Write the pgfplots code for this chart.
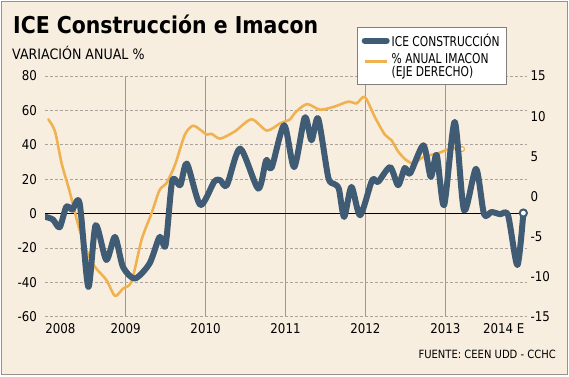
\documentclass[border=0pt]{standalone}
\usepackage{fontspec}
\setmainfont{DejaVu Sans}[FakeStretch=0.88]
\newfontfamily\narrowfont{DejaVu Sans}[FakeStretch=0.79]
\usepackage{pgfplots}
\usepackage{pgfplotstable}
\usetikzlibrary{calc,backgrounds}
\pgfplotsset{compat=1.18}
\definecolor{bg}{RGB}{248,238,224}
\definecolor{iceblue}{RGB}{64,92,116}
\definecolor{imaorange}{RGB}{240,178,80}
\definecolor{gridgray}{RGB}{160,152,144}
\definecolor{dashgray}{RGB}{170,162,155}
\definecolor{framec}{RGB}{155,145,138}

\pgfplotstableread{
m v
0.03 -2
1.1 -3.5
2.1 -8
3.1 4
4.0 2.3
5.1 6
6.4 -42.7
7.5 -6.8
9.1 -27
10.4 -13.6
11.6 -31
13.4 -37.8
15.6 -29
17.1 -13.6
18.0 -18.4
19.0 19
20.2 16.5
21.2 29
23.2 5
25.3 18.5
26.2 19.4
27.2 16.5
29.2 37.8
31.9 14.5
33.1 31
33.9 26.5
35.8 51.4
37.3 27
38.9 56
39.9 42.6
40.9 55.3
42.4 21.3
43.2 17.4
44.0 14.5
44.8 -2
45.9 15.5
47.2 -1
49.0 19.4
49.9 18.4
51.7 27
52.9 16.5
53.9 26.5
54.7 23.3
56.7 39.7
57.8 21.3
58.7 34
59.8 4.8
61.4 53.3
62.8 1.9
64.6 26
65.8 -0.4
66.9 0.9
68.2 -0.4
69.4 -1
70.8 -30
71.7 0.3
}\icedata

\pgfplotstableread{
m r
0.4 9.6
1.4 8.1
2.4 4.1
3.6 0.6
4.9 -3.6
6.1 -6.7
7.4 -8.8
9.1 -10.4
10.4 -12.4
11.6 -11.5
12.9 -10.6
14.4 -5.4
15.9 -2.1
17.1 0.8
18.1 1.6
19.4 3.9
20.9 7.7
22.1 8.8
23.2 8.3
24.2 7.7
24.9 7.8
26.2 7.2
28.4 8.1
30.9 9.6
33.2 8.2
35.2 9.1
36.7 9.6
37.4 10.4
39.2 11.5
41.2 10.8
43.4 11.2
45.4 11.8
46.7 11.6
47.9 12.4
49.4 9.9
50.9 7.7
51.9 7.0
52.9 5.6
54.0 4.6
55.2 4.1
56.7 4.9
59.0 5.4
60.2 5.8
61.4 6.0
62.5 5.9
}\imadata

\begin{document}
\begin{tikzpicture}[x=1bp,y=1bp]
\pgfplotsset{
  base/.style={
    scale only axis,
    width=482bp, height=240.7bp,
    xmin=-0.1, xmax=72.25,
    axis line style={draw=none}, major tick length=0,
    /pgf/number format/assume math mode=true,
    tick label style={font=\fontsize{13.5}{15}\selectfont},
  }
}

% grid and left axis
\begin{axis}[base, name=ax,
  ymin=-60, ymax=80,
  ytick={-60,-40,-20,20,40,60,80},
  extra y ticks={0},
  extra y tick style={ymajorgrids=true, y grid style={black, solid, line width=1bp}},
  ymajorgrids,
  y grid style={dashgray, dash pattern=on 3bp off 2bp, line width=0.8bp},
  xtick={12,24,36,48,60},
  xticklabels={2009,2010,2011,2012,2013},
  xmajorgrids,
  x grid style={gridgray, solid, line width=0.9bp},
  extra x ticks={2.2,68.75},
  extra x tick labels={2008,2014 E},
  extra x tick style={xmajorgrids=false},
  xticklabel style={yshift=-3.5bp},
  yticklabel style={xshift=-4.5bp},
]
\addplot[draw=none] coordinates {(0,0)};
\end{axis}

% right axis: IMACON
\begin{axis}[base,
  ymin=-15, ymax=15,
  ytick={-15,-10,...,15},
  yticklabel pos=right,
  xtick=\empty,
]
\addplot[imaorange, line width=2.6bp, smooth, tension=0.45, line join=round, line cap=round] table[x=m, y=r] {\imadata};
\addplot[imaorange, line width=1.3bp, only marks, mark=*, mark size=2.4bp, mark options={fill=white}] coordinates {(62.5,5.9)};
\end{axis}

% ICE on left scale
\begin{axis}[base,
  ymin=-60, ymax=80,
  hide axis,
  legend style={at={(0.6473,1.2036)}, anchor=north west, draw=gray, fill=white,
    font=\narrowfont\fontsize{13.6}{12.5}\selectfont, cells={align=left},
    legend cell align=left, inner xsep=4.5bp, inner ysep=4.5bp, row sep=2bp},
  legend image code/.code={\draw[#1] (0bp,0bp) -- (22bp,0bp);},
]
\addplot[iceblue, line width=6bp, smooth, tension=0.45, line join=round, line cap=round] table[x=m, y=v] {\icedata};
\addlegendentry{ICE CONSTRUCCIÓN}
\addlegendimage{imaorange, line width=2.6bp, yshift=4.5bp}
\addlegendentry{\% ANUAL IMACON\\(EJE DERECHO)}
\addplot[iceblue, line width=2bp, only marks, mark=*, mark size=3.6bp, mark options={fill=white}, forget plot] coordinates {(71.7,0.3)};
\end{axis}

\begin{scope}[shift={($(ax.south west)+(-45bp,-59.3bp)$)}]
  \begin{scope}[on background layer]
    \fill[white] (0,0) rectangle (569,376);
    \filldraw[fill=bg, draw=framec, line width=1.3bp] (1.5,1.5) rectangle (567.5,374.5);
  \end{scope}
  \node[anchor=base west, inner sep=0, font=\fontsize{23.3}{26}\selectfont\bfseries] at (13,342.7) {ICE Construcción e Imacon};
  \node[anchor=base west, inner sep=0, font=\fontsize{14.4}{16}\selectfont] at (12,316.7) {VARIACIÓN ANUAL \%};
  \node[anchor=base east, inner sep=0, font=\fontsize{11.4}{13}\selectfont] at (556,17.7) {FUENTE: CEEN UDD - CCHC};
  \pgfresetboundingbox
  \useasboundingbox (0,0) rectangle (569,376);
\end{scope}
\end{tikzpicture}
\end{document}
